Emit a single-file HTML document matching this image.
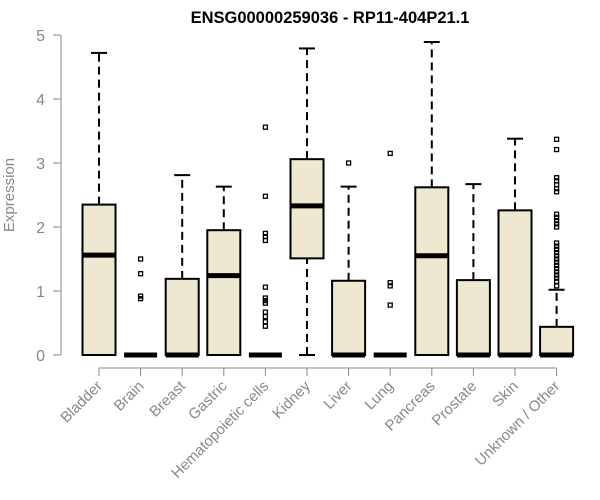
<!DOCTYPE html>
<html><head><meta charset="utf-8"><style>
html,body{margin:0;padding:0;background:#fff;width:600px;height:500px;overflow:hidden}
svg{display:block;font-family:"Liberation Sans",Arial,sans-serif}
</style></head><body>
<svg id="chart" width="600" height="500" viewBox="0 0 600 500">
<text x="330" y="23" text-anchor="middle" font-size="16.5" font-weight="bold" fill="#000">ENSG00000259036 - RP11-404P21.1</text>
<text transform="translate(14,195) rotate(-90)" text-anchor="middle" font-size="15" fill="#888">Expression</text>
<g id="yaxis"></g>
<g id="xaxis"></g>
<g id="boxes"></g>
</svg>
<script>
const categories=["Bladder","Brain","Breast","Gastric","Hematopoietic cells","Kidney","Liver","Lung","Pancreas","Prostate","Skin","Unknown / Other"];
const q1=[0,0,0,0,0,1.51,0,0,0,0,0,0];
const medians=[1.56,0,0,1.24,0,2.33,0,0,1.55,0,0,0];
const q3=[2.35,0,1.19,1.95,0,3.06,1.16,0,2.62,1.17,2.26,0.44];
const whiskLow=[0,0,0,0,0,0,0,0,0,0,0,0];
const whiskHigh=[4.72,0,2.81,2.63,0,4.79,2.63,0,4.89,2.67,3.38,1.02];
const outliers=[[],[1.5,1.27,0.92,0.88],[],[],[3.56,2.48,1.9,1.85,1.79,1.06,0.89,0.85,0.81,0.67,0.6,0.52,0.45],[],[3.0],[3.15,1.13,1.08,0.78],[],[],[],[3.37,3.21,2.77,2.72,2.66,2.6,2.55,2.2,2.15,2.1,2.05,2.0,1.75,1.7,1.65,1.6,1.55,1.5,1.45,1.4,1.35,1.3,1.25,1.2,1.15,1.08]];
const yTicks=[0,1,2,3,4,5];
const NS="http://www.w3.org/2000/svg";
function yS(v){return 355-v*64;}
function xS(i){return 99+i*41.6;}
function mk(tag,attrs,parent){const e=document.createElementNS(NS,tag);for(const k in attrs)e.setAttribute(k,attrs[k]);parent.appendChild(e);return e;}
const ya=document.getElementById('yaxis'),xa=document.getElementById('xaxis'),bx=document.getElementById('boxes');
mk('line',{x1:61,x2:61,y1:yS(0),y2:yS(5),stroke:'#888'},ya);
yTicks.forEach(t=>{
  const l=mk('line',{x1:53,x2:61,y1:yS(t),y2:yS(t),stroke:'#888'},ya);
  
  
  const tx=mk('text',{x:45,y:yS(t)+6,'text-anchor':'end','font-size':16,fill:'#888'},ya);
  tx.textContent=t;
  
  
});
mk('line',{x1:xS(0),x2:xS(categories.length-1),y1:368,y2:368,stroke:'#888'},xa);
categories.forEach((c,i)=>{
  const x=xS(i);
  const l=mk('line',{x1:x,x2:x,y1:368,y2:376,stroke:'#888'},xa);
  
  
  const t=mk('text',{x:0,y:0,'text-anchor':'end','font-size':15,fill:'#888',transform:`translate(${x+4},${387}) rotate(-45)`},xa);
  t.textContent=c;
  
  
  const g=mk('g',{},bx);
  
  
  const hw=16.5;
  if(whiskHigh[i]>q3[i]){
    mk('line',{x1:x,x2:x,y1:yS(q3[i]),y2:yS(whiskHigh[i]),stroke:'#000','stroke-width':2,'stroke-dasharray':'8,5'},g);
    mk('line',{x1:x-8,x2:x+8,y1:yS(whiskHigh[i]),y2:yS(whiskHigh[i]),stroke:'#000','stroke-width':2},g);
  }
  if(q1[i]>whiskLow[i]){
    mk('line',{x1:x,x2:x,y1:yS(whiskLow[i]),y2:yS(q1[i]),stroke:'#000','stroke-width':2,'stroke-dasharray':'8,5'},g);
    mk('line',{x1:x-8,x2:x+8,y1:yS(whiskLow[i]),y2:yS(whiskLow[i]),stroke:'#000','stroke-width':2},g);
  }
  if(q3[i]>q1[i]){
    mk('rect',{x:x-hw,y:yS(q3[i]),width:hw*2,height:yS(q1[i])-yS(q3[i]),fill:'#ede8cf',stroke:'#000','stroke-width':2},g);
  }
  mk('line',{x1:x-hw,x2:x+hw,y1:yS(medians[i]),y2:yS(medians[i]),stroke:'#000','stroke-width':5},g);
  outliers[i].forEach(v=>{
    const r=mk('rect',{x:x-2,y:yS(v)-2,width:4,height:4,fill:'none',stroke:'#000','stroke-width':1.3},g);
    
    
  });
});
</script>
</body></html>
